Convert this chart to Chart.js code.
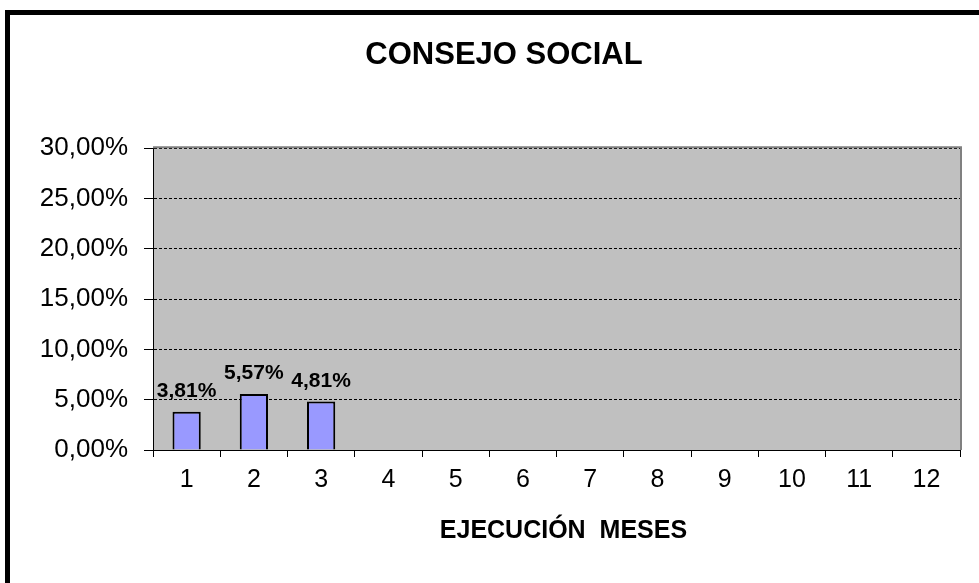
<!DOCTYPE html>
<html>
<head>
<meta charset="utf-8">
<script src="https://cdn.jsdelivr.net/npm/chart.js@4/dist/chart.umd.min.js"></script>
<style>
    html, body { margin: 0; padding: 0; background: #fff; overflow: hidden; }
    #frame { position: absolute; left: 5px; top: 10px; width: 2000px; height: 2000px;
             border-left: 5px solid #000; border-top: 5px solid #000; }
    #wrap { position: absolute; left: 0; top: 0; width: 979px; height: 583px; }
</style>
</head>
<body>
<div id="frame"></div>
<div id="wrap"><canvas id="chart" width="979" height="583"></canvas></div>
<script>
var months = ['1', '2', '3', '4', '5', '6', '7', '8', '9', '10', '11', '12'];
var execution = [3.81, 5.57, 4.81, null, null, null, null, null, null, null, null, null];
var yTicks = [0, 5, 10, 15, 20, 25, 30];

function pct(v) {
    return v.toFixed(2).replace('.', ',') + '%';
}

// gray plot area with a gray edge on top and right
var plotArea = {
    id: 'plotArea',
    afterLayout: function (chart) {
        // the original title is centred on a frame wider than the picture
        if (chart.titleBlock) {
            chart.titleBlock.left += 24;
            chart.titleBlock.right += 24;
        }
    },
    beforeDraw: function (chart) {
        var a = chart.chartArea, ctx = chart.ctx;
        ctx.save();
        ctx.fillStyle = '#C0C0C0';
        ctx.fillRect(a.left, a.top, a.right - a.left, a.bottom - a.top);
        ctx.restore();
    },
    afterDatasetsDraw: function (chart) {
        var a = chart.chartArea, ctx = chart.ctx;
        ctx.save();
        ctx.strokeStyle = '#808080';
        ctx.lineWidth = 2;
        ctx.beginPath();
        ctx.moveTo(a.left, a.top - 1);
        ctx.lineTo(a.right + 1, a.top - 1);
        ctx.lineTo(a.right + 1, a.bottom);
        ctx.stroke();
        ctx.restore();
    }
};

// value labels above the bars
var valueLabels = {
    id: 'valueLabels',
    afterDatasetsDraw: function (chart) {
        var ctx = chart.ctx;
        var meta = chart.getDatasetMeta(0);
        ctx.save();
        ctx.font = 'bold 21px "Liberation Sans", Arial, sans-serif';
        ctx.fillStyle = '#000';
        ctx.textAlign = 'center';
        ctx.textBaseline = 'alphabetic';
        meta.data.forEach(function (bar, i) {
            var v = chart.data.datasets[0].data[i];
            if (v === null || v === undefined) return;
            ctx.fillText(pct(v), bar.x, bar.y - 15);
        });
        ctx.restore();
    }
};

var config = {
    type: 'bar',
    data: {
        labels: months,
        datasets: [{
            data: execution,
            backgroundColor: '#9999FF',
            borderColor: '#000',
            borderWidth: 2,
            barPercentage: 0.42,
            categoryPercentage: 1
        }]
    },
    options: {
        responsive: false,
        animation: false,
        events: [],
        layout: { padding: { left: 0, right: 19, top: 0, bottom: 0 } },
        plugins: {
            legend: { display: false },
            tooltip: { enabled: false },
            title: {
                display: true,
                text: 'CONSEJO SOCIAL',
                color: '#000',
                font: { family: '"Liberation Sans", Arial, sans-serif', size: 31, weight: 'bold', lineHeight: 1.2 },
                padding: { top: 37, bottom: 74 }
            }
        },
        scales: {
            x: {
                offset: true,
                grid: { display: true, drawOnChartArea: false, drawTicks: true, tickLength: 7, tickColor: '#000', offset: true },
                border: { display: true, color: '#000', width: 1 },
                ticks: {
                    color: '#000',
                    padding: 8,
                    maxRotation: 0,
                    font: { family: '"Liberation Sans", Arial, sans-serif', size: 25 }
                },
                title: {
                    display: true,
                    text: '\u00a0\u00a0EJECUCIÓN  MESES',
                    color: '#000',
                    font: { family: '"Liberation Sans", Arial, sans-serif', size: 25, weight: 'bold', lineHeight: 1.2 },
                    padding: { top: 0, bottom: 37 }
                },
                afterFit: function (scale) { scale.height = 133; }
            },
            y: {
                min: 0,
                max: 30,
                afterBuildTicks: function (scale) {
                    scale.ticks = yTicks.map(function (v) { return { value: v }; });
                },
                grid: { color: '#000', lineWidth: 1, tickLength: 9, tickColor: '#000' },
                border: { display: true, color: '#000', width: 1, dash: [3, 2] },
                ticks: {
                    color: '#000',
                    padding: 16,
                    font: { family: '"Liberation Sans", Arial, sans-serif', size: 26 },
                    callback: function (value) { return pct(value); }
                },
                afterFit: function (scale) { scale.width = 153; }
            }
        }
    },
    plugins: [plotArea, valueLabels]
};

new Chart(document.getElementById('chart'), config);
</script>
</body>
</html>
